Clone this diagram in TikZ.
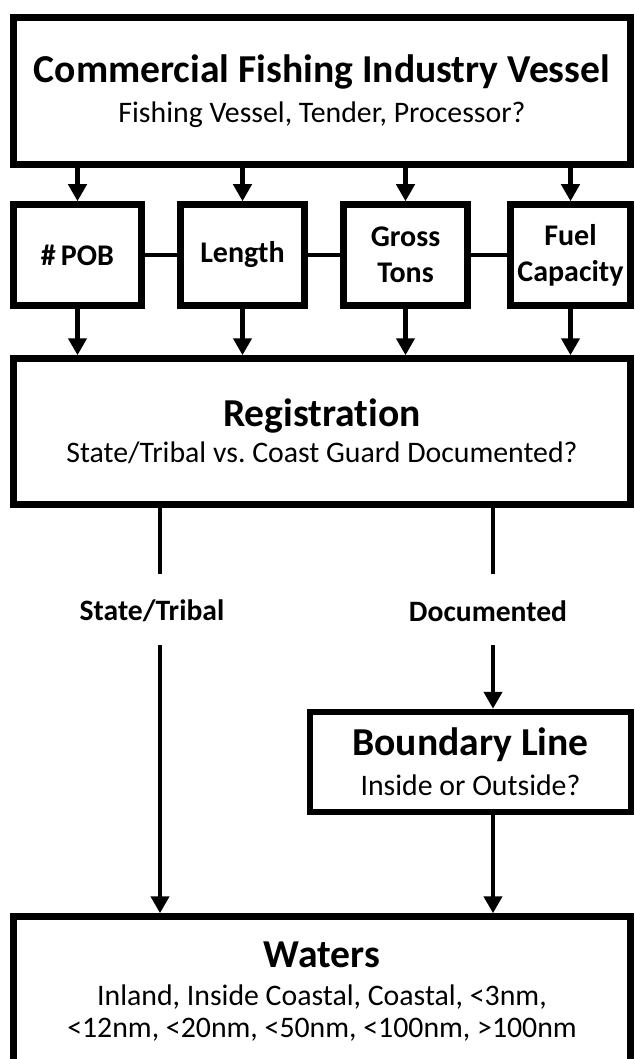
\documentclass[tikz,border=0pt]{standalone}
\usepackage{fontspec}
\setmainfont{Carlito}[Ligatures={NoCommon}]
\usetikzlibrary{arrows.meta}
\newcommand{\ttlf}{\fontsize{19.8}{19.8}\selectfont\bfseries}
\frenchspacing
\begin{document}
\begin{tikzpicture}[x=0.5pt,y=-0.5pt,
  box/.style={draw=black, line width=3.25pt, fill=white, rectangle, inner sep=0pt,
    align=center, font=\fontsize{14.9}{19}\selectfont},
  smallbox/.style={draw=black, line width=3.25pt, fill=white, rectangle, inner sep=0pt,
    align=center, minimum height=50.5pt, font=\fontsize{15}{18}\selectfont\bfseries},
  lbl/.style={inner sep=0pt, font=\fontsize{14.8}{18}\selectfont\bfseries},
  arr/.style={line width=2.25pt, -{Triangle[width=9pt,length=8.5pt]}},
  plain/.style={line width=2.25pt},
  link/.style={line width=2pt}]
\fill[white] (0,0) rectangle (634,1059);
\useasboundingbox (0,0) rectangle (634,1059);
\clip (0,0) rectangle (634,1059);

\node[box, minimum width=308.5pt, minimum height=73.5pt] (cfiv) at (322,91)
  {{\ttlf Commercial Fishing Industry Vessel}\\[1pt]Fishing Vessel, Tender, Processor?};

\node[smallbox, minimum width=64pt] (pob) at (77.5,255) {\#\,POB};
\node[smallbox, minimum width=62pt] (len) at (242.5,255) {Length};
\node[smallbox, minimum width=62pt] (gt) at (405.5,255) {Gross\\Tons};
\node[smallbox, minimum width=60pt] (fuel) at (570.5,255) {Fuel\\Capacity};

\node[box, minimum width=308.5pt, minimum height=73pt] (reg) at (322,431.5)
  {{\ttlf Registration}\\[-1pt]State/Tribal vs. Coast Guard Documented?};

\node[box, minimum width=160.5pt, minimum height=50pt] (bnd) at (470.5,762)
  {{\ttlf Boundary Line}\\[1pt]Inside or Outside?};

\node[box, minimum width=308.5pt, minimum height=75.5pt] (wat) at (322,992)
  {{\ttlf Waters}\\[0pt]Inland, Inside Coastal, Coastal, <3nm,\\[-3pt]<12nm, <20nm, <50nm, <100nm, >100nm};

\node[lbl] (st) at (152,611) {State/Tribal};
\node[lbl] (doc) at (488,611) {Documented};

\coordinate (sA) at (160,574);
\coordinate (sB) at (160,645);
\coordinate (dA) at (493,574);
\coordinate (dB) at (493,645);

\foreach \n in {pob,len,gt,fuel}{
  \draw[arr] (cfiv.south -| \n) -- (\n.north);
  \draw[arr] (\n.south) -- (\n.south |- reg.north);
}
\draw[link] (pob.east) -- (len.west);
\draw[link] (len.east) -- (gt.west);
\draw[link] (gt.east) -- (fuel.west);

\draw[plain] (reg.south -| sA) -- (sA);
\draw[arr] (sB) -- (sB |- wat.north);
\draw[plain] (reg.south -| dA) -- (dA);
\draw[arr] (dB) -- (dB |- bnd.north);
\draw[arr] (bnd.south -| dB) -- (dB |- wat.north);
\end{tikzpicture}
\end{document}
